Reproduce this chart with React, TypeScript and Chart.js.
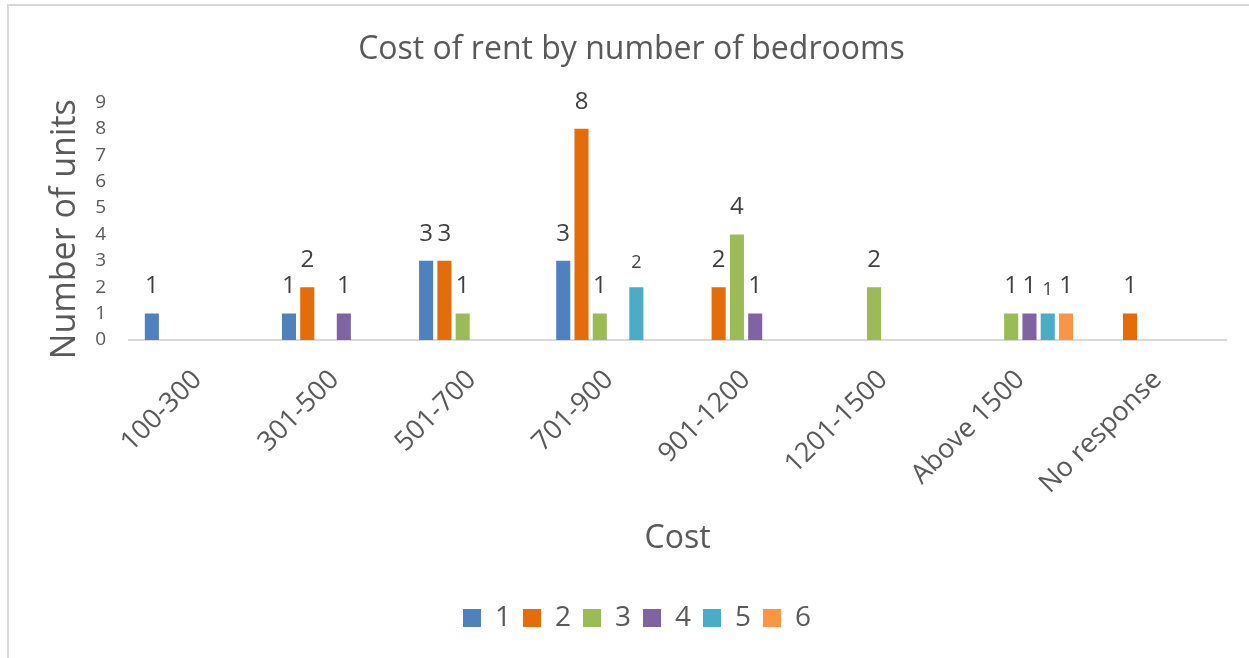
import React, { useEffect, useRef } from "react";
import { Chart, registerables } from "chart.js";

Chart.register(...registerables);

const categories = ["100-300", "301-500", "501-700", "701-900", "901-1200", "1201-1500", "Above 1500", "No response"];
const seriesNames = ["1", "2", "3", "4", "5", "6"];
const bed1 = [1, 1, 3, 3, 0, 0, 0, 0];
const bed2 = [0, 2, 3, 8, 2, 0, 0, 1];
const bed3 = [0, 0, 1, 1, 4, 2, 1, 0];
const bed4 = [0, 1, 0, 0, 1, 0, 1, 0];
const bed5 = [0, 0, 0, 2, 0, 0, 1, 0];
const bed6 = [0, 0, 0, 0, 0, 0, 1, 0];
const seriesValues = [bed1, bed2, bed3, bed4, bed5, bed6];
const colors = ["#4F81BD", "#E46C0A", "#9BBB59", "#8064A2", "#4BACC6", "#F79646"];
const yTicks = [0, 1, 2, 3, 4, 5, 6, 7, 8, 9];
const titleText = "Cost of rent by number of bedrooms";
const xTitleText = "Cost";
const yTitleText = "Number of units";

const FONT = "'Open Sans', sans-serif";
const W = 1249;
const H = 658;

const valueLabels = {
  id: "valueLabels",
  afterDatasetsDraw(chart: any) {
    const ctx = chart.ctx;
    ctx.save();
    ctx.textAlign = "center";
    ctx.textBaseline = "middle";
    ctx.fillStyle = "#404040";
    chart.data.datasets.forEach((ds: any, di: number) => {
      const meta = chart.getDatasetMeta(di);
      const small = di === 4;
      ctx.font = `${small ? 18 : 24}px ${FONT}`;
      meta.data.forEach((el: any, i: number) => {
        const v = ds.data[i];
        if (!v) return;
        ctx.fillText(String(v), el.x, el.y - (small ? 24 : 27));
      });
    });
    ctx.restore();
  },
};

// Centre title and legend on the whole frame, like the original, and draw the y-axis title
const frameLayout = {
  id: "frameLayout",
  afterLayout(chart: any) {
    if (chart.titleBlock) {
      chart.titleBlock.left = 14;
      chart.titleBlock.right = W;
    }
    if (chart.legend) {
      chart.legend.left = 25;
      chart.legend.right = W;
    }
  },
  afterDraw(chart: any) {
    const ctx = chart.ctx;
    const ys = chart.scales.y;
    ctx.save();
    ctx.translate(65, (ys.top + ys.bottom) / 2 + 8);
    ctx.rotate(-Math.PI / 2);
    ctx.textAlign = "center";
    ctx.textBaseline = "middle";
    ctx.fillStyle = "#595959";
    ctx.font = `34px ${FONT}`;
    ctx.fillText(yTitleText, 0, 0);
    ctx.restore();
  },
};

export default function App() {
  const ref = useRef<HTMLCanvasElement>(null);
  useEffect(() => {
    if (!ref.current) return;
    const chart = new Chart(ref.current, {
      type: "bar",
      data: {
        labels: categories,
        datasets: seriesNames.map((name, i) => ({
          label: name,
          data: seriesValues[i],
          backgroundColor: colors[i],
          borderWidth: 0,
          categoryPercentage: 0.8,
          barPercentage: 0.77,
        })),
      },
      plugins: [valueLabels, frameLayout],
      options: {
        responsive: false,
        animation: false,
        layout: { padding: { top: 0, left: 0, right: 23, bottom: 16 } },
        plugins: {
          title: {
            display: true,
            text: titleText,
            color: "#595959",
            font: { family: FONT, size: 32, weight: "normal" as any, lineHeight: 1.2 },
            padding: { top: 31, bottom: 33 },
          },
          legend: {
            position: "bottom",
            labels: {
              color: "#595959",
              font: { family: FONT, size: 28 },
              boxWidth: 18,
              boxHeight: 18,
              padding: 12,
            },
          },
          tooltip: { enabled: false },
        },
        scales: {
          x: {
            grid: { display: false },
            border: { display: true, color: "#D9D9D9", width: 2 },
            ticks: {
              color: "#595959",
              font: { family: FONT, size: 27 },
              maxRotation: 45,
              minRotation: 45,
              autoSkip: false,
              padding: 16,
            },
            title: {
              display: true,
              text: xTitleText,
              color: "#595959",
              font: { family: FONT, size: 32, lineHeight: 1.2 },
              padding: { top: 0, bottom: 34 },
            },
            afterFit(scale: any) {
              scale.height = 252;
            },
          },
          y: {
            min: 0,
            max: 9,
            grid: { display: false },
            border: { display: false },
            ticks: {
              stepSize: 1,
              autoSkip: false,
              color: "#595959",
              font: { family: FONT, size: 19 },
              padding: 15,
              callback: (v: any) => (yTicks.includes(Number(v)) ? String(v) : ""),
            },
            title: { display: false },
            afterFit(scale: any) {
              scale.width = 129;
            },
          },
        },
      },
    });
    return () => chart.destroy();
  }, []);
  return (
    <div style={{ position: "fixed", left: 0, top: 0, width: W, height: H, background: "#fff", overflow: "hidden" }}>
      <div
        style={{
          position: "absolute",
          left: 7,
          top: 4,
          width: W - 7,
          height: H - 4,
          borderLeft: "2px solid #D9D9D9",
          borderTop: "2px solid #D9D9D9",
          boxSizing: "border-box",
        }}
      />
      <canvas ref={ref} width={W} height={H} style={{ position: "absolute", left: 0, top: 0, width: W, height: H }} />
    </div>
  );
}
